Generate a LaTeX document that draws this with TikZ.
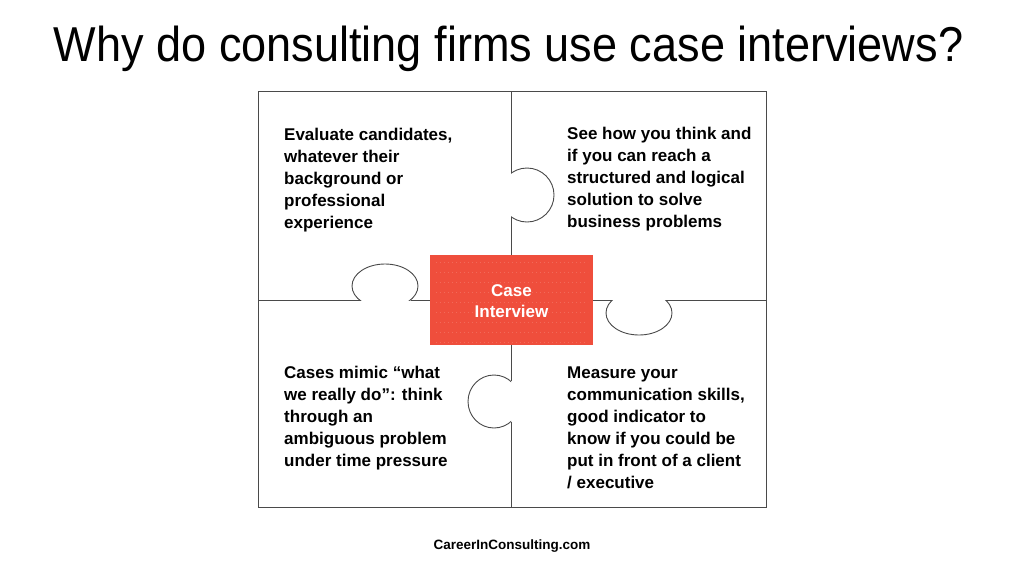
\documentclass[tikz,border=0pt]{standalone}
\usepackage{fontspec}
\setmainfont{Liberation Sans}
\newfontfamily\titlefont[FakeStretch=0.92]{Liberation Sans}
\definecolor{caseRed}{HTML}{EF4E3C}
\definecolor{caseDot}{HTML}{F26A5A}
\definecolor{lineGray}{HTML}{4A4A4A}
\begin{document}
\begin{tikzpicture}[x=1pt,y=-1pt,
  piece/.style={draw=lineGray, line width=0.9pt},
  bodytext/.style={anchor=base west, inner sep=0pt, text=black},
  bodyfont/.style={font=\fontsize{17}{22}\selectfont\bfseries}
]
\useasboundingbox[fill=white] (0,0) rectangle (1024,576);

% title
\node[anchor=base, inner sep=0pt] (title) at (508.5,61)
  {\titlefont\fontsize{49}{52}\selectfont Why do consulting firms use case interviews?};

% outer frame
\draw[piece] (258,91) rectangle (766,507);

% vertical line, top part with knob to the right
\draw[piece] (511,91) -- (511,173.3);
\draw[piece] (511,216.7) -- (511,255);
\begin{scope}
  \clip (511,150) rectangle (570,240);
  \draw[piece] (527,195) circle [radius=27pt];
\end{scope}

% horizontal line, left part with knob upward
\draw[piece] (258,300) -- (359.5,300);
\draw[piece] (410.5,300) -- (430,300);
\begin{scope}
  \clip (340,250) rectangle (430,300);
  \draw[piece] (385,286) ellipse [x radius=33pt, y radius=22pt];
\end{scope}

% vertical line, bottom part with knob to the left
\draw[piece] (511,345) -- (511,381.4);
\draw[piece] (511,421.6) -- (511,507);
\begin{scope}
  \clip (450,360) rectangle (511,440);
  \draw[piece] (494,401.5) ellipse [x radius=26pt, y radius=26.5pt];
\end{scope}

% horizontal line, right part with knob downward
\draw[piece] (593,300) -- (612.4,300);
\draw[piece] (665.6,300) -- (766,300);
\begin{scope}
  \clip (595,300) rectangle (690,350);
  \draw[piece] (639,313) ellipse [x radius=33pt, y radius=22pt];
\end{scope}

% central red box
\fill[caseRed] (430,255) rectangle (593,345);
\foreach \yy in {262,272,...,342}
  \draw[caseDot, line width=0.4pt, dash pattern=on 0.4pt off 3.6pt] (436,\yy) -- (588,\yy);
\node[inner sep=0pt, align=center, text=white, font=\fontsize{17}{21}\selectfont\bfseries] (center) at (511.5,301)
  {Case\\Interview};

% quadrant texts
\node[bodytext, bodyfont] (tl) at (284,140)
  {\parbox[t]{230pt}{\raggedright Evaluate candidates,\\whatever their\\background or\\professional\\experience}};
\node[bodytext, bodyfont] (tr) at (567,139)
  {\parbox[t]{230pt}{\raggedright See how you think and\\if you can reach a\\structured and logical\\solution to solve\\business problems}};
\node[bodytext, bodyfont] (bl) at (284,378)
  {\parbox[t]{230pt}{\raggedright Cases mimic “what\\we really do”: think\\through an\\ambiguous problem\\under time pressure}};
\node[bodytext, bodyfont] (br) at (567,378)
  {\parbox[t]{230pt}{\raggedright Measure your\\communication skills,\\good indicator to\\know if you could be\\put in front of a client\\/ executive}};

% footer
\node[anchor=base, inner sep=0pt, font=\fontsize{13.5}{15}\selectfont\bfseries] (footer) at (512,549)
  {CareerInConsulting.com};
\end{tikzpicture}
\end{document}
